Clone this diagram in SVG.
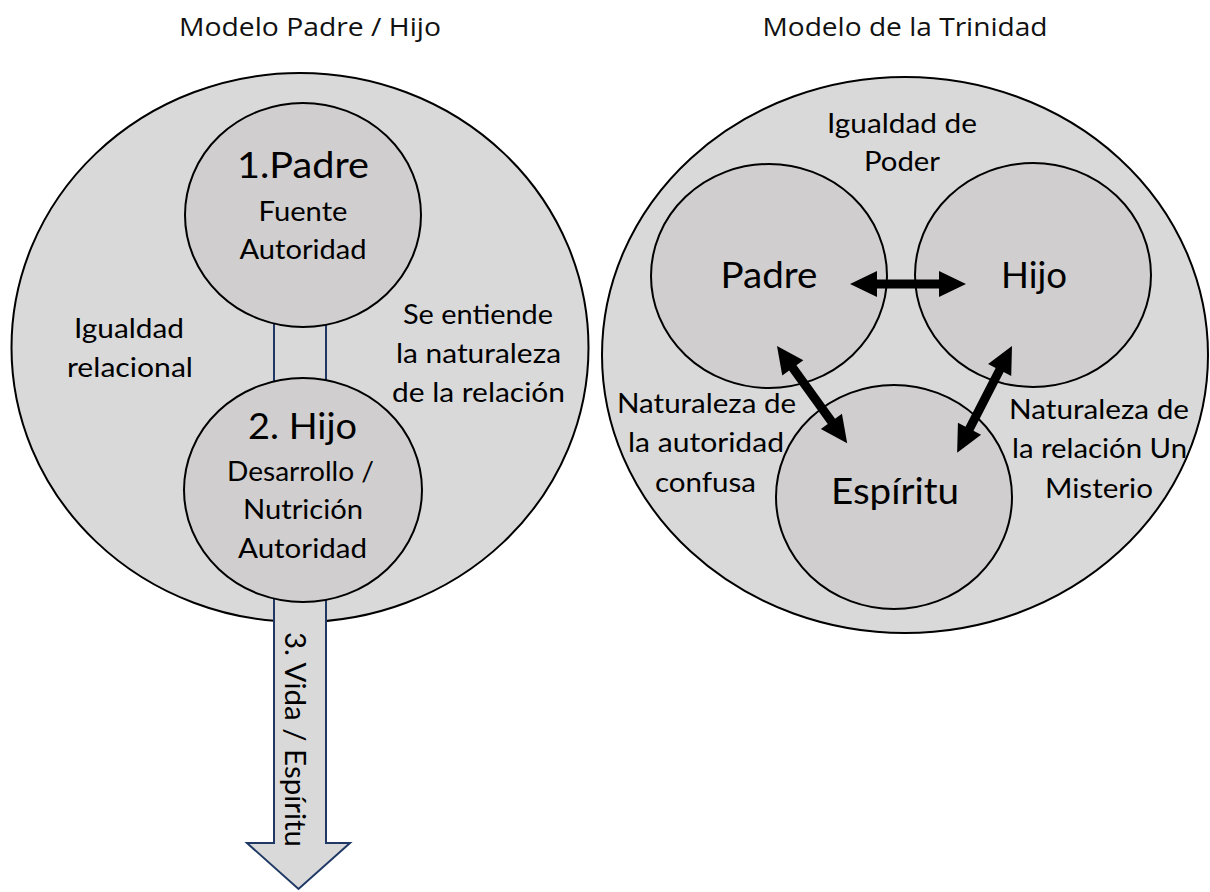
<svg xmlns="http://www.w3.org/2000/svg" width="1210" height="892" viewBox="0 0 1210 892">
<style>
.bg{fill:#ffffff}
.outer{fill:#d9d9d9;stroke:#000;stroke-width:2}
.inner{fill:#d0cece;stroke:#000;stroke-width:2}
.flow{fill:#d9d9d9;stroke:#1f3864;stroke-width:2;stroke-linejoin:miter}
.darrow{fill:#000;stroke:none}
.title{font-family:"Open Sans","Liberation Sans",sans-serif;font-size:25px;fill:#111;text-anchor:middle}
.big{font-family:Lato,"Liberation Sans",sans-serif;font-size:36px;fill:#000;text-anchor:middle}
.mid{font-family:Lato,"Liberation Sans",sans-serif;font-size:27px;fill:#000;text-anchor:middle}
.arr{font-family:Lato,"Liberation Sans",sans-serif;font-size:28px;fill:#000;text-anchor:middle}
</style>
<rect class="bg" x="0" y="0" width="1210" height="892"/>

<g id="titles">
<text class="title" x="310" y="36" textLength="262" lengthAdjust="spacingAndGlyphs">Modelo Padre / Hijo</text>
<text class="title" x="905" y="36" textLength="285" lengthAdjust="spacingAndGlyphs">Modelo de la Trinidad</text>
</g>

<g id="padre-hijo-model">
<ellipse class="outer" cx="300" cy="347.5" rx="288.5" ry="274.5"/>
<text class="mid" x="129" y="338" textLength="110" lengthAdjust="spacingAndGlyphs">Igualdad</text>
<text class="mid" x="130" y="377" textLength="126" lengthAdjust="spacingAndGlyphs">relacional</text>
<text class="mid" x="478" y="324" textLength="150" lengthAdjust="spacingAndGlyphs">Se entiende</text>
<text class="mid" x="478.5" y="363" textLength="165" lengthAdjust="spacingAndGlyphs">la naturaleza</text>
<text class="mid" x="478.5" y="402" textLength="173" lengthAdjust="spacingAndGlyphs">de la relación</text>
</g>

<g id="trinity-model">
<ellipse class="outer" cx="905" cy="355" rx="303" ry="278"/>
<text class="mid" x="902" y="133" textLength="150" lengthAdjust="spacingAndGlyphs">Igualdad de</text>
<text class="mid" x="902" y="171" textLength="76" lengthAdjust="spacingAndGlyphs">Poder</text>
<text class="mid" x="706.5" y="413" textLength="179" lengthAdjust="spacingAndGlyphs">Naturaleza de</text>
<text class="mid" x="706" y="452" textLength="156" lengthAdjust="spacingAndGlyphs">la autoridad</text>
<text class="mid" x="705.5" y="492" textLength="101" lengthAdjust="spacingAndGlyphs">confusa</text>
<text class="mid" x="1099" y="419" textLength="180" lengthAdjust="spacingAndGlyphs">Naturaleza de</text>
<text class="mid" x="1099.5" y="458" textLength="175" lengthAdjust="spacingAndGlyphs">la relación Un</text>
<text class="mid" x="1099" y="498" textLength="108" lengthAdjust="spacingAndGlyphs">Misterio</text>
</g>

<g id="t-padre">
<ellipse class="inner" cx="769" cy="276" rx="118" ry="112"/>
<text class="big" x="769" y="288" textLength="97" lengthAdjust="spacingAndGlyphs">Padre</text>
</g>
<g id="t-hijo">
<ellipse class="inner" cx="1033" cy="275" rx="118" ry="112"/>
<text class="big" x="1034" y="288" textLength="66" lengthAdjust="spacingAndGlyphs">Hijo</text>
</g>
<g id="t-espiritu">
<ellipse class="inner" cx="894" cy="497" rx="118" ry="112"/>
<text class="big" x="895" y="504" textLength="128" lengthAdjust="spacingAndGlyphs">Espíritu</text>
</g>

<g id="connectors">
<g id="flow-arrow">
<polygon class="flow" points="274,318 326,318 326,843 350,843 298.5,889 247,843 274,843"/>
<text class="arr" transform="translate(285,739.5) rotate(90)" x="0" y="0" textLength="215" lengthAdjust="spacingAndGlyphs">3. Vida / Espíritu</text>
</g>
<path class="darrow" transform="translate(850,284)" d="M0,0 L27,-13 L27,-4.5 L89,-4.5 L89,-13 L116,0 L89,13 L89,4.5 L27,4.5 L27,13 Z"/>
<path class="darrow" transform="translate(777,346) rotate(54.2)" d="M0,0 L27,-13 L27,-4.5 L93,-4.5 L93,-13 L120,0 L93,13 L93,4.5 L27,4.5 L27,13 Z"/>
<path class="darrow" transform="translate(1012,346) rotate(117.2)" d="M0,0 L27,-13 L27,-4.5 L93,-4.5 L93,-13 L120,0 L93,13 L93,4.5 L27,4.5 L27,13 Z"/>
</g>

<g id="l-padre">
<ellipse class="inner" cx="303" cy="215" rx="118" ry="112"/>
<text class="big" x="303" y="178" textLength="132" lengthAdjust="spacingAndGlyphs">1.Padre</text>
<text class="mid" x="303" y="221" textLength="89" lengthAdjust="spacingAndGlyphs">Fuente</text>
<text class="mid" x="303" y="259" textLength="127" lengthAdjust="spacingAndGlyphs">Autoridad</text>
</g>
<g id="l-hijo">
<ellipse class="inner" cx="303" cy="490" rx="119" ry="112"/>
<text class="big" x="302.5" y="439" textLength="109" lengthAdjust="spacingAndGlyphs">2. Hijo</text>
<text class="mid" x="300.5" y="481" textLength="147" lengthAdjust="spacingAndGlyphs">Desarrollo /</text>
<text class="mid" x="303" y="519" textLength="120" lengthAdjust="spacingAndGlyphs">Nutrición</text>
<text class="mid" x="302.5" y="558" textLength="129" lengthAdjust="spacingAndGlyphs">Autoridad</text>
</g>
</svg>
